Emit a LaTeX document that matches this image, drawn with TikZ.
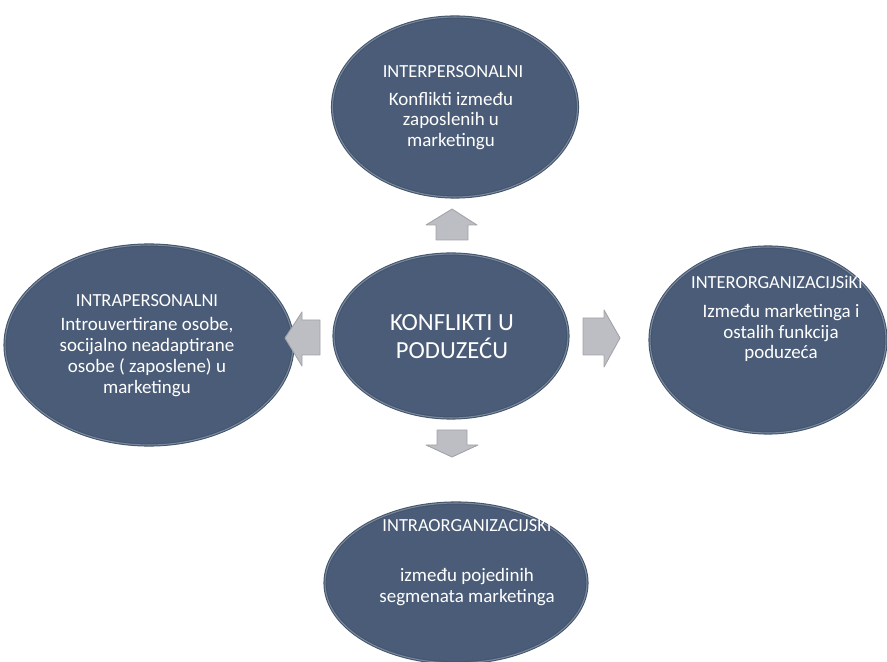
\documentclass[tikz,border=0pt]{standalone}
\usepackage{fontspec}
\setmainfont{Carlito}
\usetikzlibrary{shapes.geometric}

\definecolor{blobfill}{HTML}{4A5C77}
\definecolor{blobrim}{HTML}{44546B}
\definecolor{blobglow}{HTML}{7788A0}
\definecolor{arrowfill}{HTML}{BDBEC3}
\definecolor{arrowrim}{HTML}{A3A4AA}

\tikzset{
  blob/.style={ellipse, inner sep=0pt, fill=blobfill, draw=blobrim, line width=0.6pt,
               double=blobglow, double distance=0.6pt},
  head/.style={text=white, font=\fontsize{10.5}{12}\selectfont, inner sep=0pt},
  body/.style={text=white, font=\fontsize{10.8}{11.8}\selectfont, align=center, inner sep=0pt},
  blockarrow/.style={fill=arrowfill, draw=arrowrim, line width=0.5pt, line join=round}
}

\begin{document}
\begin{tikzpicture}[x=0.02cm, y=-0.02cm]
      \useasboundingbox (0,0) rectangle (887,662);
      %%%%%%%%%%%%%%%%%%%%%%%%%%%%%%%%%%%%%%%%%%%%%%%
      \node[blob, minimum width=4.9cm, minimum height=3.6cm]   (top)    at (455,107) {};
      \node[blob, minimum width=5.76cm, minimum height=4.0cm]  (left)   at (149,345) {};
      \node[blob, minimum width=4.68cm, minimum height=3.28cm] (centre) at (451,336) {};
      \node[blob, minimum width=4.72cm, minimum height=3.72cm] (right)  at (768,340) {};
      \node[blob, minimum width=5.24cm, minimum height=3.2cm]  (bottom) at (456,583) {};
      %%%%%%%%%%%%%%%%%%%%%%%%%%%%%%%%%%%%%%%%%%%%%%%
      \node[text=white, font=\fontsize{14}{16}\selectfont, align=center] (ctext) at (452,337)
            {KONFLIKTI U\\PODUZEĆU};
      %%%%%%%%%%%%%%%%%%%%%%%%%%%%%%%%%%%%%%%%%%%%%%%
      \node[head] (toph) at (453,72) {INTERPERSONALNI};
      \node[body] (topb) at (451,121) {Konflikti između\\zaposlenih u\\marketingu};
      %%%%%%%%%%%%%%%%%%%%%%%%%%%%%%%%%%%%%%%%%%%%%%%
      \node[head] (lefth) at (147,301) {INTRAPERSONALNI};
      \node[body] (leftb) at (147,357) {Introuvertirane osobe,\\socijalno neadaptirane\\osobe ( zaposlene) u\\marketingu};
      %%%%%%%%%%%%%%%%%%%%%%%%%%%%%%%%%%%%%%%%%%%%%%%
      \node[head] (righth) at (777,282) {INTERORGANIZACIJSiKI};
      \node[body] (rightb) at (781,333) {Između marketinga i\\ostalih funkcija\\poduzeća};
      %%%%%%%%%%%%%%%%%%%%%%%%%%%%%%%%%%%%%%%%%%%%%%%
      \node[head] (bottomh) at (467,526) {INTRAORGANIZACIJSKI};
      \node[body] (bottomb) at (467,587) {između pojedinih\\segmenata marketinga};
      %%%%%%%%%%%%%%%%%%%%%%%%%%%%%%%%%%%%%%%%%%%%%%%
      \draw[blockarrow] (452,209) -- (477,225) -- (468,225) -- (468,240) -- (436,240) -- (436,225) -- (426,225) -- cycle;
      \draw[blockarrow] (437,430) -- (467,430) -- (467,445) -- (478,445) -- (452,457) -- (426,445) -- (437,445) -- cycle;
      \draw[blockarrow] (285,338) -- (302,312) -- (302,320) -- (320,320) -- (320,355) -- (302,355) -- (302,366) -- cycle;
      \draw[blockarrow] (620,338) -- (604,310) -- (604,318) -- (583,318) -- (583,355) -- (604,355) -- (604,367) -- cycle;
    \end{tikzpicture}
\end{document}
